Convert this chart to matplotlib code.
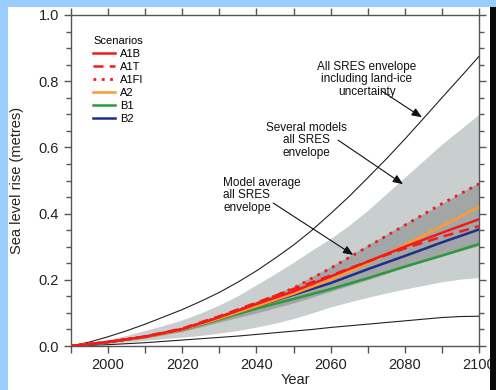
import matplotlib
matplotlib.use("Agg")
import matplotlib.pyplot as plt
from matplotlib.patches import Rectangle
from matplotlib.ticker import MultipleLocator, FuncFormatter

plt.rcParams['font.family'] = ['Liberation Sans', 'DejaVu Sans']

years10 = [1990, 2000, 2010, 2020, 2030, 2040, 2050, 2060, 2070, 2080, 2090, 2100]
years5 = [1990, 1995, 2000, 2005, 2010, 2015, 2020, 2025, 2030, 2035, 2040, 2045,
          2050, 2055, 2060, 2065, 2070, 2075, 2080, 2085, 2090, 2095, 2100]

# Outer envelope including land-ice uncertainty (black lines, 5-yearly)
ice_upper = [0, 0.012, 0.028, 0.046, 0.066, 0.088, 0.110, 0.135, 0.162, 0.193, 0.227, 0.265,
             0.305, 0.350, 0.400, 0.452, 0.508, 0.565, 0.625, 0.687, 0.750, 0.812, 0.875]
ice_lower = [0, 0.002, 0.004, 0.007, 0.010, 0.014, 0.018, 0.022, 0.026, 0.030, 0.035, 0.040,
             0.045, 0.050, 0.056, 0.061, 0.066, 0.071, 0.076, 0.081, 0.086, 0.089, 0.090]
# Several models all SRES envelope (light grey, 5-yearly)
models_upper = [0, 0.008, 0.020, 0.032, 0.047, 0.062, 0.079, 0.100, 0.124, 0.152, 0.185, 0.218,
                0.253, 0.290, 0.325, 0.365, 0.410, 0.460, 0.510, 0.560, 0.610, 0.655, 0.700]
models_lower = [0, 0.003, 0.007, 0.012, 0.017, 0.022, 0.027, 0.032, 0.039, 0.047, 0.057, 0.069,
                0.083, 0.100, 0.118, 0.133, 0.147, 0.160, 0.172, 0.183, 0.194, 0.202, 0.207]
# Model average all SRES envelope (dark grey, decadal)
avg_upper = [0, 0.013, 0.030, 0.055, 0.092, 0.135, 0.18, 0.24, 0.305, 0.37, 0.43, 0.495]
avg_lower = [0, 0.010, 0.024, 0.044, 0.072, 0.100, 0.13, 0.165, 0.20, 0.237, 0.272, 0.303]

# Scenarios (decadal)
A1B  = [0, 0.012, 0.028, 0.051, 0.087, 0.127, 0.165, 0.21, 0.255, 0.30, 0.342, 0.383]
A1T  = [0, 0.012, 0.029, 0.053, 0.090, 0.131, 0.172, 0.213, 0.255, 0.295, 0.33, 0.362]
A1FI = [0, 0.012, 0.028, 0.051, 0.088, 0.128, 0.175, 0.235, 0.30, 0.365, 0.43, 0.49]
A2   = [0, 0.012, 0.027, 0.049, 0.083, 0.120, 0.158, 0.20, 0.25, 0.305, 0.362, 0.42]
B1   = [0, 0.012, 0.027, 0.048, 0.080, 0.113, 0.142, 0.172, 0.205, 0.24, 0.273, 0.308]
B2   = [0, 0.012, 0.028, 0.050, 0.085, 0.120, 0.155, 0.19, 0.232, 0.272, 0.313, 0.352]

W, H = 496, 390
fig = plt.figure(figsize=(W / 100, H / 100), dpi=100)
fig.patch.set_facecolor('white')

ax = fig.add_axes([71 / W, (H - 346) / H, 408 / W, 331 / H])
ax.set_xlim(1990, 2100)
ax.set_ylim(0, 1.0)

ax.fill_between(years5, models_lower, models_upper, color='#c9cfcf', lw=0, zorder=1)
ax.fill_between(years10, avg_lower, avg_upper, color='#a2a6a6', lw=0, zorder=2)
ax.plot(years5, ice_upper, color='#222222', lw=0.8, zorder=3)
ax.plot(years5, ice_lower, color='#222222', lw=0.8, zorder=3)

red = '#f41a1a'
l_b1, = ax.plot(years10, B1, color='#2a9a3c', lw=1.8, zorder=4, label='B1')
l_b2, = ax.plot(years10, B2, color='#1c2f8c', lw=1.8, zorder=5, label='B2')
l_a2, = ax.plot(years10, A2, color='#ff9a2e', lw=1.8, zorder=6, label='A2')
l_a1t, = ax.plot(years10, A1T, color=red, lw=1.8, ls=(0, (4, 2.5)), zorder=7, label='A1T')
l_a1b, = ax.plot(years10, A1B, color=red, lw=1.8, zorder=8, label='A1B')
l_a1fi, = ax.plot(years10, A1FI, color=red, lw=2.0, ls=(0, (1, 2)), zorder=9, label='A1FI')

leg = ax.legend(handles=[l_a1b, l_a1t, l_a1fi, l_a2, l_b1, l_b2], title='Scenarios',
                loc='upper left', bbox_to_anchor=(0.054, 0.938), frameon=False,
                fontsize=8, title_fontsize=8, handlelength=2.0, handletextpad=0.45,
                labelspacing=0.27, borderpad=0, borderaxespad=0, alignment='left')

txt_kw = dict(fontsize=8.5, linespacing=1.05, color='#111111', zorder=10)
arr_kw = dict(arrowstyle='-|>,head_length=0.6,head_width=0.25', color='#111111', lw=0.8,
              shrinkA=0, shrinkB=0)

ax.text(2069.8, 0.806, 'All SRES envelope\nincluding land-ice\nuncertainty',
        ha='center', va='center', multialignment='center', **txt_kw)
ax.annotate('', xy=(2084.6, 0.691), xytext=(2073.8, 0.770), arrowprops=arr_kw, zorder=10)

ax.text(2053.5, 0.622, 'Several models\nall SRES\nenvelope',
        ha='center', va='center', multialignment='center', **txt_kw)
ax.annotate('', xy=(2079.5, 0.489), xytext=(2062.0, 0.622), arrowprops=arr_kw, zorder=10)

ax.text(2031.0, 0.456, 'Model average\nall SRES\nenvelope',
        ha='left', va='center', multialignment='left', **txt_kw)
ax.annotate('', xy=(2066.1, 0.275), xytext=(2044.5, 0.432), arrowprops=arr_kw, zorder=10)

# Axes styling
spine_c = '#555555'
for s in ax.spines.values():
    s.set_color(spine_c)
    s.set_linewidth(1.0)

ax.xaxis.set_major_locator(MultipleLocator(10))
ax.xaxis.set_major_formatter(FuncFormatter(lambda v, p: f'{int(round(v))}' if int(round(v)) % 20 == 0 else ''))
ax.yaxis.set_major_locator(MultipleLocator(0.2))
ax.yaxis.set_minor_locator(MultipleLocator(0.05))
ax.yaxis.set_major_formatter(FuncFormatter(lambda v, p: f'{v:.1f}'))

ax.tick_params(axis='both', which='both', direction='out', colors=spine_c,
               labelcolor='#222222', top=True, right=True)
ax.tick_params(axis='x', which='major', length=4.8, width=1.0, pad=4.0, labelsize=10.5)
ax.tick_params(axis='y', which='major', length=5.2, width=1.0, pad=3.6, labelsize=10.5)
ax.tick_params(axis='y', which='minor', length=3.4, width=1.0)
ax.tick_params(labeltop=False, labelright=False)

ax.set_xlabel('Year', fontsize=10.5, color='#222222')
ax.xaxis.set_label_coords(0.549, -0.082)
ax.set_ylabel('Sea level rise (metres)', fontsize=10.5, color='#222222')
ax.yaxis.set_label_coords(-0.115, 0.5)

# Frame strips around the picture
fig.add_artist(Rectangle((0, 0), 8 / W, 1, transform=fig.transFigure,
                         facecolor='#99ccff', edgecolor='none', zorder=20))
fig.add_artist(Rectangle((0, (H - 7) / H), 1, 7 / H, transform=fig.transFigure,
                         facecolor='#99ccff', edgecolor='none', zorder=20))
fig.add_artist(Rectangle((490 / W, 0), 6 / W, (H - 7) / H, transform=fig.transFigure,
                         facecolor='#0a0a0a', edgecolor='none', zorder=20))

fig.savefig('out.png', dpi=100)
